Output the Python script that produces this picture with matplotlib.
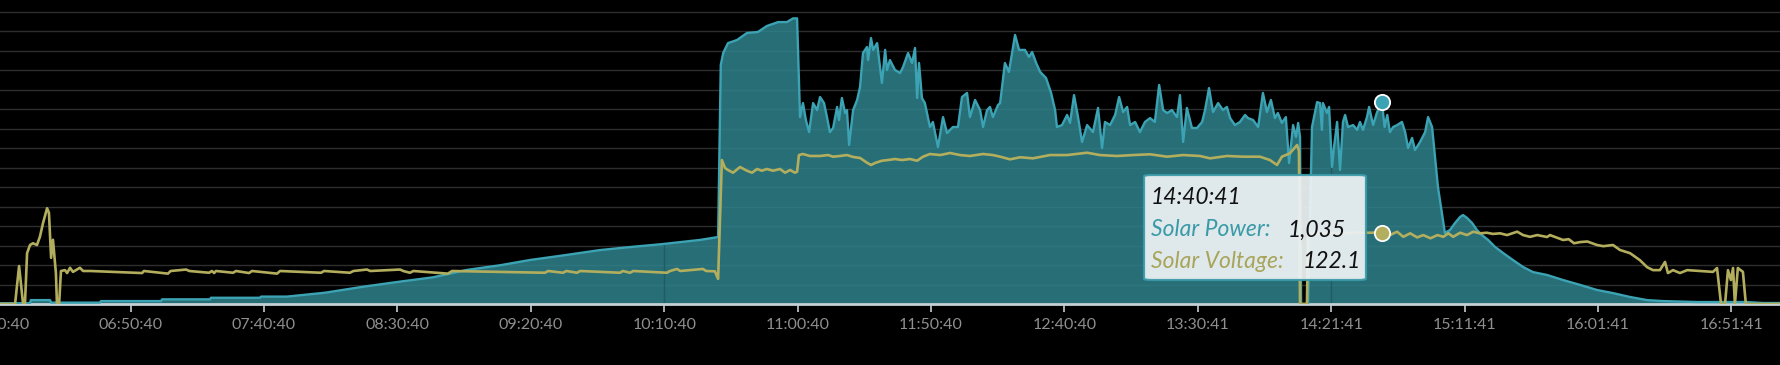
import numpy as np
import matplotlib.pyplot as plt
from matplotlib.patches import FancyBboxPatch

plt.rcParams['font.family'] = ['Lato', 'DejaVu Sans']

# x = minutes after 06:00:40 (one tick label every 50 samples)
tick_pos = list(range(0, 700, 50))
tick_labels = ['06:00:40', '06:50:40', '07:40:40', '08:30:40', '09:20:40',
               '10:10:40', '11:00:40', '11:50:40', '12:40:40', '13:30:41',
               '14:21:41', '15:11:41', '16:01:41', '16:51:41']

power_t = [0, 12.3, 12.6, 19.8, 20.2, 38.5, 38.9, 61.4, 61.8, 79.8, 80.1, 98.5, 98.9, 108.6,
           122.9, 137.3, 151, 163.3, 176, 188.5, 199.7, 213.4, 225.9, 238.4, 249.5, 263.4, 270.2,
           271.2, 272.1, 273.9, 277.3, 281, 285.1, 288.5, 292.7, 296, 298.3, 299.8, 300.9,
           302, 303.1, 304.3, 305.8, 307.3, 308.4, 309.9, 311, 312.1, 313.3, 314.8, 315.5,
           316.6, 317.8, 318.5, 319.3, 320.8, 322.3, 323.4, 324.5, 326, 326.4, 327.5, 328.3,
           329.8, 331.6, 332.8, 333.5, 334.6, 336.5, 338.4, 339.5, 341.4, 342.9, 344, 344.8,
           345.5, 346.6, 347.7, 349.6, 350.7, 352.6, 354.5, 356, 358.2, 360.1, 361.6, 363.5,
           364.6, 366.5, 368.4, 369.5, 371, 372.1, 373.2, 375.1, 375.9, 377.7, 379.2, 381.5,
           383, 385.2, 386.7, 387.9, 389.4, 390.9, 393.1, 395, 396.5, 397.2, 399.1, 401,
           402.1, 403.6, 405.1, 406.6, 408.5, 410.7, 412.6, 414.1, 415.2, 417.1, 419, 420.5,
           422, 423.5, 424.6, 426.5, 428.3, 430.2, 432.1, 433.9, 435.5, 437, 438.5, 440.3,
           442.2, 443.3, 444.5, 445.9, 447.8, 449.7, 451.6, 452.7, 454.2, 455.7, 457.6, 459.4,
           460.9, 462.1, 463.9, 465.8, 467.7, 468.8, 470.7, 472.6, 474.4, 475.9, 477.4, 478.9,
           480, 481.5, 483, 484.2, 485.7, 486.8, 487.6, 488.3, 488.7, 490.9, 491.3, 492.8,
           494.7, 495.8, 496.5, 496.9, 498.4, 499.2, 500.3, 501, 502.2, 503.3, 504.4, 505.2,
           506.3, 508.2, 509.7, 510.8, 511.9, 513.4, 514.2, 515.7, 517.2, 519, 520, 521,
           522, 523.2, 524.7, 526.5, 527.7, 528.8, 530.3, 531.4, 533.3, 535.2, 536.3, 537.8,
           538.9, 540, 541.5, 542.6, 544.5, 546.4, 548.3, 549.4, 550.9, 552.8, 554.6, 556.5,
           558.8, 561.4, 564.4, 568.1, 571.9, 575.6, 580.9, 586.9, 593.3, 599.6, 605.6, 612,
           618.4, 624.4, 637.1, 655.8, 661.8, 668.2]
power_w = [4, 4, 20, 20, 7, 7, 15, 15, 24, 24, 32, 32, 38, 38,
           58, 89, 115, 137, 175, 199, 226, 252, 277, 294, 308, 329, 344,
           1228, 1289, 1340, 1356, 1392, 1397, 1428, 1448, 1448, 1467, 1467, 960,
           1032, 945, 883, 1032, 996, 1063, 1032, 960, 883, 904, 1012, 945,
           1058, 981, 996, 817, 996, 1048, 1115, 1289, 1320, 1253, 1366, 1305,
           1340, 1135, 1305, 1202, 1253, 1202, 1186, 1217, 1289, 1238, 1315, 1058,
           1238, 1058, 1032, 909, 935, 806, 960, 878, 909, 909, 1063, 1084,
           960, 1048, 996, 909, 996, 1012, 960, 1022, 1032, 1238, 1192, 1382,
           1305, 1305, 1269, 1294, 1238, 1192, 1161, 1084, 996, 909, 919, 971,
           930, 1073, 960, 832, 919, 883, 1007, 801, 935, 919, 971, 1063,
           986, 1012, 919, 935, 883, 935, 955, 935, 1125, 996, 981, 996,
           960, 1073, 832, 1007, 904, 904, 935, 996, 1109, 986, 1032, 996,
           1012, 955, 919, 935, 971, 955, 945, 909, 1084, 986, 1048, 955,
           981, 930, 960, 724, 919, 858, 930, 858, 0, 0, 0, 909,
           1037, 1032, 894, 1032, 981, 1012, 704, 801, 935, 688, 935, 971,
           909, 919, 894, 935, 894, 960, 1012, 919, 986, 1035, 909, 971,
           883, 909, 919, 935, 883, 801, 853, 791, 832, 883, 960, 909,
           755, 601, 467, 365, 380, 416, 447, 457, 442, 416, 380, 354,
           329, 293, 262, 226, 190, 164, 149, 123, 98, 72, 56, 36,
           20, 15, 10, 10, 5, 5]

volt_t = [0, 6.7, 8.2, 9.7, 10.4, 11.2, 12.3, 13.4, 14.9, 16, 17.2, 18.7, 19.4, 20.2, 20.9,
          22, 22.4, 23.2, 23.9, 25.4, 26.2, 27.3, 28.4, 31, 32.2, 35,
          54.3, 55, 64, 65, 70.8, 72, 79.4, 80.5, 81.3, 82, 88.4, 89.5, 94.4, 95.5,
          104.9, 106, 121.4, 122.5, 132.2, 133.5, 138.6, 139.8, 151, 152.2, 154.7, 156,
          168.9, 170.5, 205.3, 206.5, 212.1, 213.3, 217.3, 218.5, 233.4, 234.5, 237.2,
          238.4, 251, 252.2, 254.8, 256, 264.5, 265.7, 269, 270.2,
          271.6, 272.8, 273.9, 275.8, 278.4, 281, 282.9, 284.8, 286.6, 288.5, 290.8,
          293.4, 295.3, 297.2, 299, 299.8, 300.5, 302, 304.6, 308.4, 311.4, 313.3, 315.9,
          318.5, 320.8, 323.4, 326, 327.5, 329, 331.6, 333.9, 336.5, 339.1, 342.1, 344.8,
          347, 349.6, 353.4, 357.1, 360.9, 364.6, 369.5, 373.2, 375.9, 379.6, 383.4,
          388.2, 394.6, 401, 408.5, 413.3, 419.7, 425.7, 432.1, 438.5, 444.5, 450.8,
          454.6, 460.9, 466.9, 473.3, 477, 479.7, 481.5, 484.5, 487.2, 487.9, 488.3,
          490.9, 491.3, 500, 510, 519, 522, 524.7, 527, 529.6, 532.2, 534.5, 537.2, 539.8,
          542, 543.9, 545.7, 548.3, 550.9, 553.2, 555.7, 558.3, 560.6, 563.3, 565.9,
          569.7, 571.9, 574.5, 577.2, 580.9, 582, 586.9, 589, 591, 593.3, 596, 599.6,
          602, 605.6, 608.2, 612, 615.7, 618.4, 620.6, 623.2, 625.1, 626.2, 628.1,
          630.7, 633.4, 638.2, 643.1, 644.6, 646.1, 647.6, 648.7, 649.8, 650.6, 651.3,
          652.4, 654.3, 655.4, 668.2]
volt_v = [0, 0, 65, 0, 0, 87, 101, 104, 101, 115, 139, 164, 156, 79, 110,
          53, 0, 0, 56.5, 58, 53, 62, 55, 62, 56.5, 56.5,
          53, 56.5, 52, 56.5, 59, 56.5, 53.5, 56.5, 53, 56.5, 53.5, 56.5, 53, 56.5,
          52, 56.5, 53.5, 56.5, 53.5, 56.5, 59, 56.5, 59, 56.5, 53.5, 56.5,
          52, 56.5, 53.5, 56.5, 53.5, 56.5, 53.5, 56.5, 53.5, 56.5, 53.5,
          56.5, 53.5, 56.5, 60, 56.5, 60, 56.5, 56, 43,
          246.5, 232.8, 229.4, 224.8, 234.5, 228.2, 224.8, 231.1, 228.2, 231.1, 228.2,
          231.1, 224.8, 229.4, 224.8, 226.5, 255, 256.8, 253.4, 253.4, 255, 252.2, 253.4,
          255, 251.7, 250, 241.9, 238, 241.4, 245.3, 246.5, 248.2, 246.5, 248.2, 245.3,
          252.2, 256.8, 255, 258.5, 255, 253.4, 256.8, 255, 252.2, 247.7, 251.2,
          249.4, 255, 255, 259, 255, 253.4, 255, 256.3, 252.2, 255, 253.4,
          249.4, 253.4, 252.2, 252.2, 246.5, 238, 252.2, 258, 272.2, 262, 0,
          0, 122, 121, 122, 122.1, 118, 123.8, 115, 121, 114, 118, 112.5, 118,
          115, 121, 115, 122, 118, 123.8, 121, 122, 120, 121, 118,
          123.8, 118, 115, 118, 114.7, 118, 109.6, 111, 104, 106, 107, 101,
          99, 101, 92.5, 87, 75, 63, 58, 58, 72, 53, 58,
          53, 58, 56.5, 55, 61.6, 0, 0, 58, 41, 61.6, 0,
          61.6, 55, 0, 0]

hover_t = 519
hover_label = '14:40:41'

W_MAX = 1561.4
C_FILL = '#2f828d'
C_POWER = '#3ba3b3'
C_VOLT = '#b3ae5e'

fig = plt.figure(figsize=(17.8, 3.65), dpi=100, facecolor='black')
ax = fig.add_axes([-2.8 / 1780, 61 / 365, 1782.8 / 1780, 304 / 365])
ax.set_facecolor('black')
ax.set_xlim(0, 668.2)
ax.set_ylim(0, W_MAX)
ax.set_yticks(np.arange(0, 1600, 100))
ax.grid(axis='y', color='#2e2e2e', lw=1)
ax.set_axisbelow(True)
ax.tick_params(axis='y', left=False, labelleft=False)

fill = ax.fill_between(power_t, power_w, 0, color=C_FILL, alpha=0.85, lw=0, zorder=2)
ax.plot(power_t, power_w, color=C_POWER, lw=1.7, zorder=3)

# faint markers inside the area
for xv in (250, 500):
    ln = ax.axvline(xv, color='#215b64', lw=1, zorder=2.5)
    ln.set_clip_path(fill.get_paths()[0], ax.transData)

ax.set_xticks(tick_pos)
ax.set_xticklabels(tick_labels)
ax.tick_params(axis='x', colors='#c4ccd0', length=6, width=1.2, pad=4,
               labelsize=11.5, labelcolor='#8f8f8f')
for s in ['top', 'left', 'right']:
    ax.spines[s].set_visible(False)
ax.spines['bottom'].set_color('#c4d0d6')
ax.spines['bottom'].set_linewidth(2)

ax2 = ax.twinx()
ax2.set_ylim(0, W_MAX / 3)
ax2.set_xlim(0, 668.2)
ax2.axis('off')
ax2.plot(volt_t, volt_v, color=C_VOLT, lw=1.9, zorder=3)

hp = power_w[power_t.index(hover_t)]
hv = volt_v[volt_t.index(hover_t)]
ax2.plot([hover_t], [hp / 3], 'o', ms=11, mfc=C_POWER, mec='white', mew=1.3, zorder=5)
ax2.plot([hover_t], [hv], 'o', ms=11, mfc=C_VOLT, mec='white', mew=1.3, zorder=5)

# tooltip
box = FancyBboxPatch((1144 / 1780, 1 - 280 / 365), 222 / 1780, 105 / 365,
                     boxstyle='round,pad=0,rounding_size=0.004',
                     transform=fig.transFigure, facecolor='#eef3f5', alpha=0.93,
                     edgecolor='#3a9aa8', lw=1.6, zorder=6)
fig.patches.append(box)
fkw = dict(fontsize=16.5, style='italic', va='center', zorder=7)
fig.text(1151 / 1780, 1 - 198 / 365, hover_label, color='#111111', **fkw)
fig.text(1151 / 1780, 1 - 230 / 365, 'Solar Power:', color='#3a9aa8', **fkw)
fig.text(1288 / 1780, 1 - 230 / 365, f'{hp:,}', color='#111111', **fkw)
fig.text(1151 / 1780, 1 - 261 / 365, 'Solar Voltage:', color='#a8a45a', **fkw)
fig.text(1303 / 1780, 1 - 261 / 365, f'{hv}', color='#111111', **fkw)

fig.savefig('out.png', dpi=100, facecolor='black')
